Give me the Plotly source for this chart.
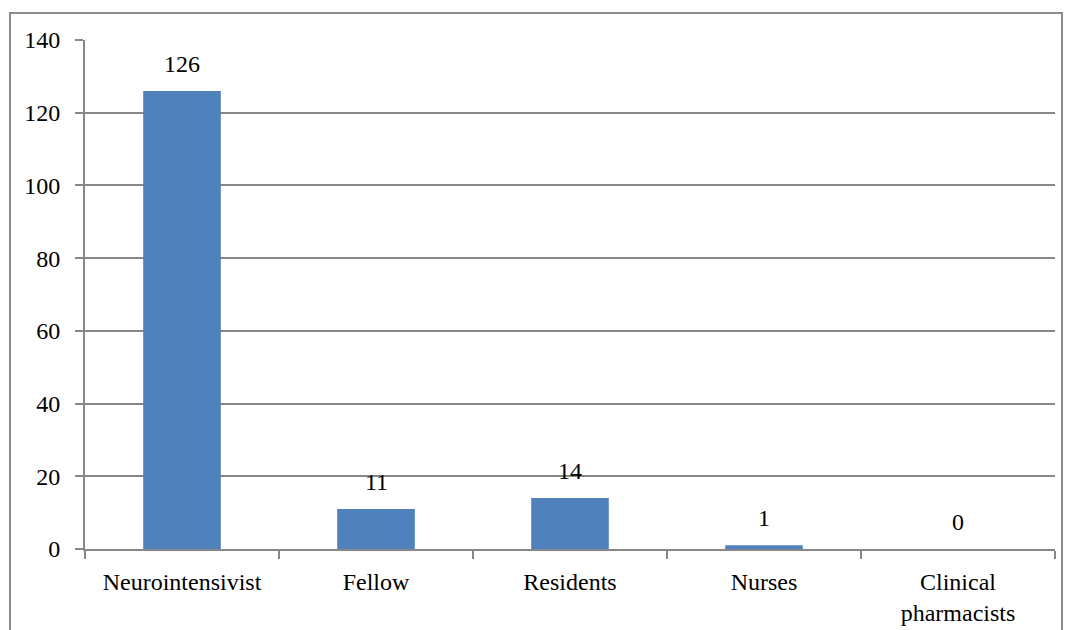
import plotly.graph_objects as go

categories = ["Neurointensivist", "Fellow", "Residents", "Nurses", "Clinical<br>pharmacists"]
values = [126, 11, 14, 1, 0]
y_ticks = [0, 20, 40, 60, 80, 100, 120, 140]

FONT = dict(family="Liberation Serif, Times New Roman, serif", size=24, color="#000000")
GRID = "#878787"

fig = go.Figure()
fig.add_trace(go.Bar(
    x=categories, y=values,
    marker=dict(color="#4F81BD", line=dict(width=0)),
    width=0.4,
    hoverinfo="skip",
))

for c, v in zip(categories, values):
    fig.add_annotation(x=c, y=v, text=str(v), showarrow=False,
                       yanchor="bottom", yshift=12, font=FONT)

# outer frame
fig.add_shape(type="rect", xref="paper", yref="paper",
              x0=-0.0773, x1=1.0072, y0=-0.2, y1=1.053,
              line=dict(color="#8c8c8c", width=2), layer="below")

fig.update_layout(
    width=1068, height=630,
    margin=dict(l=85, r=13, t=40, b=81),
    paper_bgcolor="white", plot_bgcolor="white",
    font=FONT,
    showlegend=False,
    xaxis=dict(
        type="category", automargin=False,
        showline=True, linecolor=GRID, linewidth=2,
        ticks="outside", tickson="boundaries", ticklen=8, tickcolor=GRID, tickwidth=2,
        showgrid=False, ticklabelstandoff=10,
    ),
    yaxis=dict(
        range=[0, 140], tickvals=y_ticks, automargin=False,
        showline=True, linecolor=GRID, linewidth=2,
        ticks="outside", ticklen=8, tickcolor=GRID, tickwidth=2,
        showgrid=True, gridcolor=GRID, gridwidth=1.5,
        zeroline=False, ticklabelstandoff=10,
    ),
)

fig.write_html("out.html")
